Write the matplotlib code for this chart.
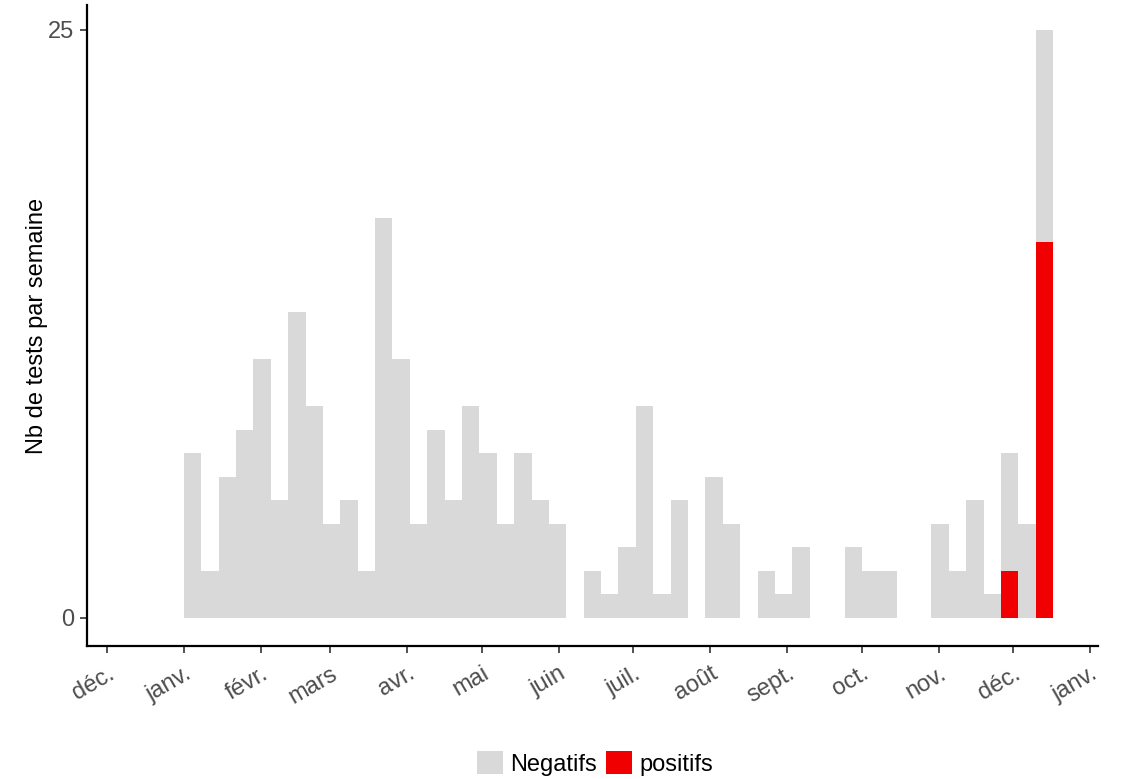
import matplotlib
matplotlib.use("Agg")
import matplotlib.pyplot as plt
import matplotlib.dates as mdates
from matplotlib.patches import Patch
import numpy as np
import pandas as pd

# --- weekly counts, first week starting 2021-01-01 ---
first_week = "2021-01-01"
negatifs = [7, 2, 6, 8, 11, 5, 13, 9, 4, 5, 2, 17, 11, 4, 8, 5, 9, 7, 4, 7,
            5, 4, 0, 2, 1, 3, 9, 1, 5, 0, 6, 4, 0, 2, 1, 3, 0, 0, 3, 2,
            2, 0, 0, 4, 2, 5, 1, 5, 4, 9]
positifs = [0] * 47 + [2, 0, 16]

month_ticks = pd.date_range("2020-12-01", "2022-01-01", freq="MS")
month_labels = ["déc.", "janv.", "févr.", "mars", "avr.", "mai", "juin",
                "juil.", "août", "sept.", "oct.", "nov.", "déc.", "janv."]

grey = "#D9D9D9"
red = "#F00000"

plt.rcParams["font.family"] = ["Liberation Sans", "DejaVu Sans"]

weeks = pd.date_range(first_week, periods=len(negatifs), freq="7D")
x = mdates.date2num(weeks)
neg = np.array(negatifs)
pos = np.array(positifs)

fig = plt.figure(figsize=(11.22, 7.79), dpi=100)
ax = fig.add_axes([0.0775, 0.1707, 0.901, 0.8228])

ax.bar(x, pos, width=7, align="edge", color=red, linewidth=0)
ax.bar(x, neg, width=7, align="edge", bottom=pos, color=grey, linewidth=0)

ax.set_xlim(mdates.date2num(pd.Timestamp("2020-11-23")),
            mdates.date2num(pd.Timestamp("2022-01-04")))
ax.set_ylim(-1.2, 26.06)

ax.set_yticks([0, 25])
ax.set_xticks(mdates.date2num(month_ticks))
ax.set_xticklabels(month_labels, rotation=30, ha="right", rotation_mode="anchor")

for side in ["top", "right"]:
    ax.spines[side].set_visible(False)
for side in ["left", "bottom"]:
    ax.spines[side].set_linewidth(1.6)
    ax.spines[side].set_color("black")

ax.tick_params(axis="both", length=5, width=1.2, color="#333333",
               labelsize=17, labelcolor="#4D4D4D", pad=4)
ax.tick_params(axis="x", pad=7)

ax.set_ylabel("Nb de tests par semaine", fontsize=17, color="black", labelpad=0)

handles = [Patch(facecolor=grey, edgecolor="none", label="Negatifs"),
           Patch(facecolor=red, edgecolor="none", label="positifs")]
fig.legend(handles=handles, loc="center", bbox_to_anchor=(0.53, 0.02),
           ncol=2, frameon=False, fontsize=17, handlelength=1.1,
           handleheight=1.1, handletextpad=0.3, columnspacing=0.4)

fig.savefig("out.png", dpi=100, facecolor="white")
